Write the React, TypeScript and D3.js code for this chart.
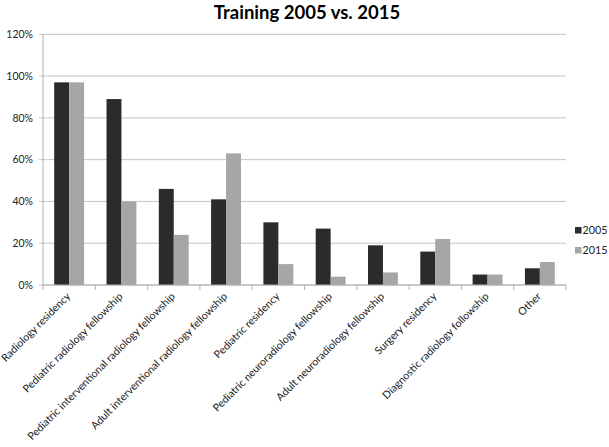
import * as d3 from 'd3';

// survey answers, share of respondents
const categories = [
  'Radiology residency',
  'Pediatric radiology fellowship',
  'Pediatric interventional radiology fellowship',
  'Adult interventional radiology fellowship',
  'Pediatric residency',
  'Pediatric neuroradiology fellowship',
  'Adult neuroradiology fellowship',
  'Surgery residency',
  'Diagnostic radiology followship',
  'Other',
];
const series = ['2005', '2015'];
const values2005 = [0.97, 0.89, 0.46, 0.41, 0.30, 0.27, 0.19, 0.16, 0.05, 0.08];
const values2015 = [0.97, 0.40, 0.24, 0.63, 0.10, 0.04, 0.06, 0.22, 0.05, 0.11];
const yTicks = [0, 0.2, 0.4, 0.6, 0.8, 1.0, 1.2];

const width = 609;
const height = 447;
const colors = ['#2b2b2b', '#a6a6a6'];
const font = 'Lato, "Liberation Sans", sans-serif';

export default function App() {
  const left = 43;
  const right = 566;
  const top = 34.3;
  const bottom = 285;

  const x = d3.scaleBand<string>().domain(categories).range([left, right]);
  const bw = x.bandwidth();
  const barW = bw / 3.5; // excel gap width 150%
  const y = d3.scaleLinear().domain([0, 1.2]).range([bottom, top]);
  const fmt = d3.format('.0%');
  const allValues = [values2005, values2015];

  return (
    <svg width={width} height={height}
      style={{ position: 'absolute', left: 0, top: 0, background: '#fff' }}
      fontFamily={font}>
      <text x={307} y={19} textAnchor="middle" fontSize={18.5} fontWeight="bold" fill="#000">
        Training 2005 vs. 2015
      </text>

      {/* grid + y axis */}
      {yTicks.map(t => (
        <g key={t}>
          <line x1={left - 4} x2={right} y1={y(t)} y2={y(t)} stroke="#c4c4c4" strokeWidth={1} />
          <text x={33} y={y(t)} dy="0.35em" textAnchor="end" fontSize={10.5} fill="#222">{fmt(t)}</text>
        </g>
      ))}
      <line x1={left} x2={left} y1={top} y2={bottom} stroke="#b0b0b0" />

      {/* bars */}
      {categories.map((c, i) => (
        <g key={c}>
          {allValues.map((vals, s) => (
            <rect key={s}
              x={x(c)! + (bw - 2 * barW) / 2 + s * barW}
              y={y(vals[i])}
              width={barW}
              height={y(0) - y(vals[i])}
              fill={colors[s]} />
          ))}
        </g>
      ))}

      {/* x axis */}
      <line x1={left} x2={right} y1={bottom} y2={bottom} stroke="#b0b0b0" />
      {[...categories.map(c => x(c)!), right].map((px, i) => (
        <line key={i} x1={px} x2={px} y1={bottom} y2={bottom + 5} stroke="#b0b0b0" />
      ))}
      {categories.map(c => {
        const cx = x(c)! + bw / 2 + 2;
        const cy = bottom + 12;
        return (
          <text key={c} x={cx} y={cy} textAnchor="end" fontSize={10.6} fill="#222"
            transform={`rotate(-45 ${cx} ${cy})`}>{c}</text>
        );
      })}

      {/* legend */}
      {series.map((s, i) => (
        <g key={s} transform={`translate(575, ${227 + i * 20})`}>
          <rect width={6.5} height={6.5} fill={colors[i]} />
          <text x={7.5} y={3.5} dy="0.35em" fontSize={10.8} fill="#222">{s}</text>
        </g>
      ))}
    </svg>
  );
}
